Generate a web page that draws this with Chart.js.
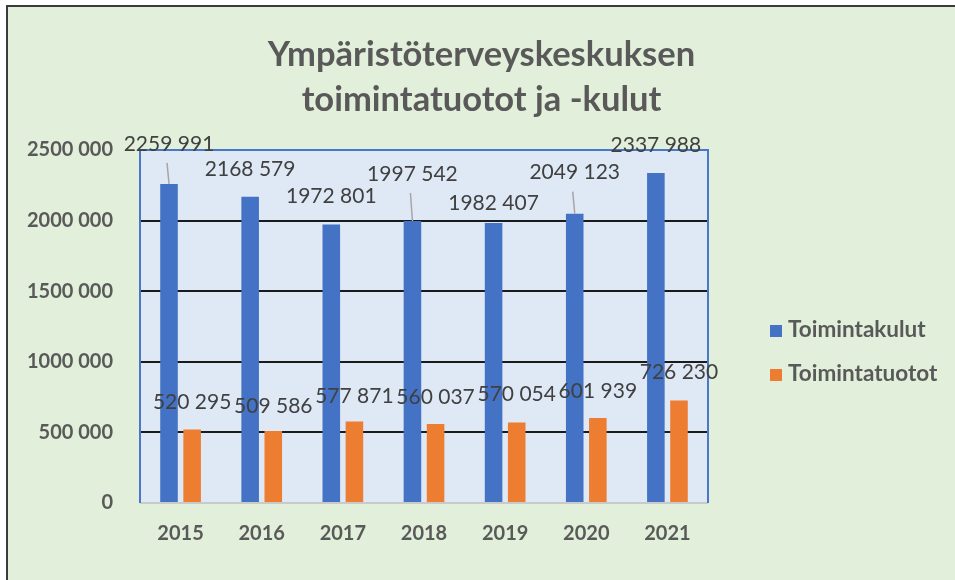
<!DOCTYPE html>
<html><head><meta charset="utf-8">
<script src="https://cdn.jsdelivr.net/npm/chart.js@4"></script>
<style>
html,body{margin:0;padding:0;background:#fff;width:955px;height:580px;overflow:hidden}
#wrap{position:absolute;left:6px;top:5px;width:947px;height:573px;border-left:2px solid #3b3b3b;border-top:2px solid #3b3b3b;background:#e2efda}
canvas{display:block}
</style></head><body>
<div id="wrap"><canvas id="c" width="947" height="573" style="width:947px;height:573px"></canvas></div>
<script>
const categories = ['2015','2016','2017','2018','2019','2020','2021'];
const kulut = [2259991, 2168579, 1972801, 1997542, 1982407, 2049123, 2337988];
const tuotot = [520295, 509586, 577871, 560037, 570054, 601939, 726230];
const seriesNames = ['Toimintakulut', 'Toimintatuotot'];
const titleLines = ['Ympäristöterveyskeskuksen', 'toimintatuotot ja -kulut'];
const yTicks = [0, 500000, 1000000, 1500000, 2000000, 2500000];

function fmt(v){
  v = Math.round(v);
  if (v < 1000) return String(v);
  const hi = Math.floor(v/1000), lo = v % 1000;
  return hi + ' ' + String(lo).padStart(3,'0');
}

const FONT = 'Lato, "Open Sans", sans-serif';

const plotDeco = {
  id: 'plotDeco',
  beforeDraw(chart){
    const {ctx, chartArea:a} = chart;
    ctx.save();
    ctx.fillStyle = '#dfe9f5';
    ctx.fillRect(a.left, a.top, a.right-a.left, a.bottom-a.top);
    ctx.restore();
  },
  afterDatasetsDraw(chart, args, opts){
    const {ctx, chartArea:a} = chart;
    ctx.save();
    ctx.strokeStyle = '#bfbfbf'; ctx.lineWidth = 1.5;
    ctx.beginPath(); ctx.moveTo(a.left, a.bottom); ctx.lineTo(a.right, a.bottom); ctx.stroke();
    ctx.strokeStyle = '#4a78c8'; ctx.lineWidth = 2;
    ctx.beginPath();
    ctx.moveTo(a.left, a.bottom); ctx.lineTo(a.left, a.top); ctx.lineTo(a.right, a.top); ctx.lineTo(a.right, a.bottom);
    ctx.stroke();
    ctx.font = '21px ' + FONT;
    ctx.fillStyle = '#404040';
    ctx.textAlign = 'center'; ctx.textBaseline = 'middle';
    chart.data.datasets.forEach((ds, di) => {
      const meta = chart.getDatasetMeta(di);
      const lifts = opts.lift[di];
      meta.data.forEach((el, i) => {
        const lift = lifts[i];
        const ly = el.y - lift;
        if (lift > 35) {
          ctx.save();
          ctx.strokeStyle = '#a6a6a6'; ctx.lineWidth = 1.5;
          ctx.beginPath(); ctx.moveTo(el.x - 2, ly + 19); ctx.lineTo(el.x, el.y); ctx.stroke();
          ctx.restore();
        }
        ctx.fillText(fmt(ds.data[i]), el.x, ly);
      });
    });
    ctx.font = 'bold 22.5px ' + FONT;
    ctx.textAlign = 'left';
    chart.data.datasets.forEach((ds, di) => {
      const y = opts.legendY + di * 44;
      const x = a.right + 62;
      ctx.fillStyle = ds.backgroundColor;
      ctx.fillRect(x, y - 6, 12, 12);
      ctx.fillStyle = '#595959';
      ctx.fillText(ds.label, x + 18, y - 1);
    });
    ctx.restore();
  }
};

new Chart(document.getElementById('c'), {
  type: 'bar',
  data: {
    labels: categories,
    datasets: [
      {label: seriesNames[0], data: kulut, backgroundColor: '#4472c4', categoryPercentage: 0.57, barPercentage: 0.76},
      {label: seriesNames[1], data: tuotot, backgroundColor: '#ed7d31', categoryPercentage: 0.57, barPercentage: 0.76}
    ]
  },
  options: {
    responsive: false,
    animation: false,
    devicePixelRatio: 1,
    layout: {padding: 0},
    plugins: {
      legend: {display: false},
      tooltip: {enabled: false},
      title: {
        display: true,
        text: titleLines,
        color: '#595959',
        font: {family: FONT, size: 34.5, weight: 'bold', lineHeight: '45px'},
        padding: {top: 25.5, bottom: 27.5}
      },
      plotDeco: {
        lift: [[40, 28, 28, 47, 20, 41, 28], [27, 25, 25, 27, 28, 27, 28]],
        legendY: 324
      }
    },
    scales: {
      x: {
        grid: {display: false},
        border: {display: false},
        ticks: {color: '#595959', font: {family: FONT, size: 20, weight: 'bold'}, padding: 11},
        afterFit(s){ s.height = 77; }
      },
      y: {
        min: 0, max: 2500000,
        afterBuildTicks(s){ s.ticks = yTicks.map(v => ({value: v})); },
        grid: {
          drawTicks: false,
          color: c => (c.tick.value === 0 || c.tick.value === 2500000) ? 'rgba(0,0,0,0)' : '#1a1a1a',
          lineWidth: 2
        },
        border: {display: false},
        ticks: {color: '#595959', font: {family: FONT, size: 20, weight: 'bold'}, padding: 27, callback: v => fmt(v)},
        afterFit(s){ s.width = 132; }
      },
      yRight: {
        position: 'right',
        display: true,
        min: 0, max: 1,
        grid: {display: false},
        border: {display: false},
        ticks: {display: false},
        afterFit(s){ s.width = 247; }
      }
    }
  },
  plugins: [plotDeco]
});
</script>
</body></html>
